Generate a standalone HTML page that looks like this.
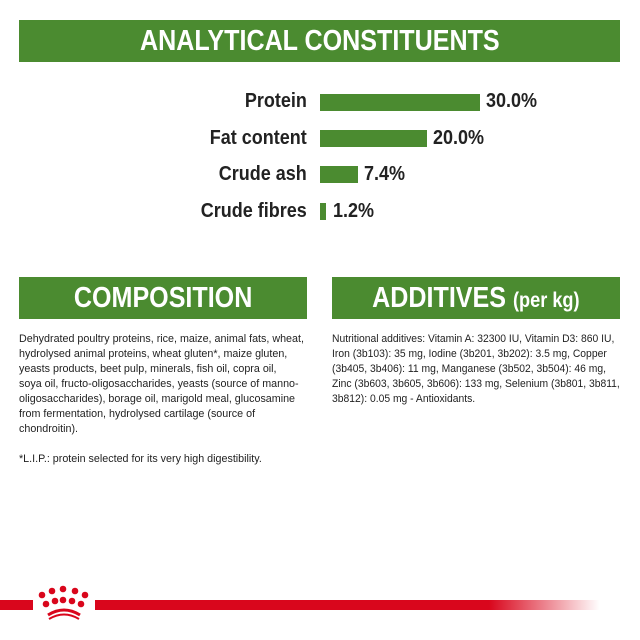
<!DOCTYPE html>
<html><head><style>
body{margin:0;width:640px;height:640px;background:#fff;position:relative;overflow:hidden;font-family:"Liberation Sans",sans-serif}
.hd{position:absolute;background:#4b8b30;color:#fff;font-weight:bold;display:flex;align-items:center;justify-content:center;white-space:nowrap}
.hd span{display:inline-block;transform:scaleX(.865)}
.lab{position:absolute;right:333px;font-weight:bold;font-size:20px;color:#222;white-space:nowrap;transform:scaleX(.9);transform-origin:right}
.bar{position:absolute;left:320px;height:17px;background:#4b8b30}
.val{position:absolute;font-weight:bold;font-size:20px;color:#222;transform:scaleX(.9);transform-origin:left}
.txt{position:absolute;font-size:11px;line-height:15px;color:#222;white-space:nowrap;transform-origin:left top}
</style></head><body>
<div class="hd" style="left:19px;top:20px;width:601px;height:42px;font-size:29px"><span>ANALYTICAL CONSTITUENTS</span></div>

<div class="lab" style="top:90px">Protein</div><div class="bar" style="top:94px;width:160px"></div><div class="val" style="left:486px;top:90px">30.0%</div>
<div class="lab" style="top:127px">Fat content</div><div class="bar" style="top:130px;width:107px"></div><div class="val" style="left:433px;top:127px">20.0%</div>
<div class="lab" style="top:163px">Crude ash</div><div class="bar" style="top:166px;width:38px"></div><div class="val" style="left:364px;top:163px">7.4%</div>
<div class="lab" style="top:200px">Crude fibres</div><div class="bar" style="top:203px;width:6px"></div><div class="val" style="left:333px;top:200px">1.2%</div>

<div class="hd" style="left:19px;top:277px;width:288px;height:42px;font-size:29px"><span>COMPOSITION</span></div>
<div class="hd" style="left:332px;top:277px;width:288px;height:42px;font-size:29px"><span>ADDITIVES <small style="font-size:21px">(per kg)</small></span></div>

<div class="txt" style="left:19px;top:332px;transform:scaleX(.975)">Dehydrated poultry proteins, rice, maize, animal fats, wheat,<br>hydrolysed animal proteins, wheat gluten*, maize gluten,<br>yeasts products, beet pulp, minerals, fish oil, copra oil,<br>soya oil, fructo-oligosaccharides, yeasts (source of manno-<br>oligosaccharides), borage oil, marigold meal, glucosamine<br>from fermentation, hydrolysed cartilage (source of<br>chondroitin).<br><br>*L.I.P.: protein selected for its very high digestibility.</div>
<div class="txt" style="left:332px;top:332px;transform:scaleX(.94)">Nutritional additives: Vitamin A: 32300 IU, Vitamin D3: 860 IU,<br>Iron (3b103): 35 mg, Iodine (3b201, 3b202): 3.5 mg, Copper<br>(3b405, 3b406): 11 mg, Manganese (3b502, 3b504): 46 mg,<br>Zinc (3b603, 3b605, 3b606): 133 mg, Selenium (3b801, 3b811,<br>3b812): 0.05 mg - Antioxidants.</div>

<div style="position:absolute;left:0;top:600px;width:33px;height:10px;background:#d9061c"></div>
<div style="position:absolute;left:95px;top:600px;width:505px;height:10px;background:linear-gradient(to right,#d9061c 78%,rgba(217,6,28,0))"></div>
<svg style="position:absolute;left:35px;top:585px" width="60" height="40" viewBox="0 0 60 40">
<g fill="#d9061c">
<circle cx="7" cy="10" r="3.3"/><circle cx="17" cy="6" r="3.3"/><circle cx="28" cy="4" r="3.3"/><circle cx="40" cy="6" r="3.3"/><circle cx="50" cy="10" r="3.3"/>
<circle cx="11" cy="19" r="3.3"/><circle cx="20" cy="16" r="3.3"/><circle cx="28" cy="15" r="3.3"/><circle cx="37" cy="16" r="3.3"/><circle cx="46" cy="19" r="3.3"/>
</g>
<path d="M13 30 Q29 20 45 30" stroke="#d9061c" stroke-width="3" fill="none"/>
<path d="M14 34 Q29 25 44 34" stroke="#d9061c" stroke-width="2" fill="none"/>
</svg>
</body></html>
